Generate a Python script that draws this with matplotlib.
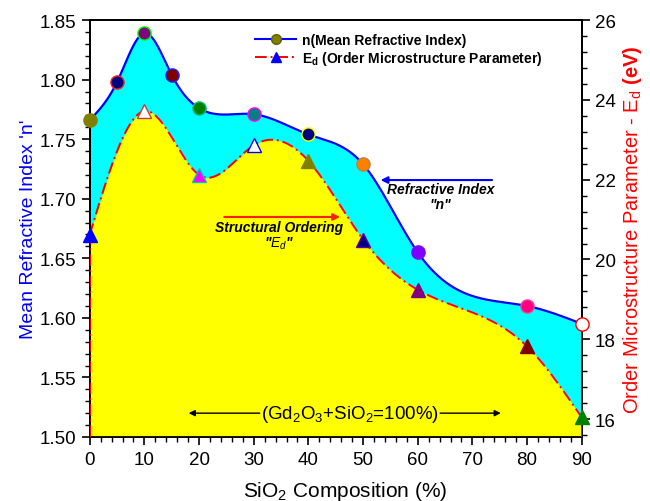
import numpy as np
import matplotlib
matplotlib.use("Agg")
from matplotlib import pyplot as plt
from matplotlib.ticker import MultipleLocator
from matplotlib.lines import Line2D

plt.rcParams['font.family'] = ['Liberation Sans', 'DejaVu Sans']
plt.rcParams['mathtext.fontset'] = 'custom'
plt.rcParams['mathtext.rm'] = 'Liberation Sans'
plt.rcParams['mathtext.it'] = 'Liberation Sans:italic'
plt.rcParams['mathtext.bf'] = 'Liberation Sans:bold'

# dane
sio2_n = [0, 5, 10, 15, 20, 30, 40, 50, 60, 80, 90]
n_vals = [1.766, 1.798, 1.839, 1.804, 1.776, 1.771, 1.754, 1.729, 1.655, 1.610, 1.595]
n_face = ['#808000', '#000080', '#800080', '#800000', '#008000', '#008080',
          '#000080', '#ff8000', '#8000ff', '#ff0080', '#ffffff']
n_edge = ['#808000', '#ff2020', '#00ff00', '#2020ff', '#00c080', '#ff00ff',
          '#ffff00', '#c08040', '#8000ff', '#ff4090', '#ff0000']

sio2_ed = [0, 10, 20, 30, 40, 50, 60, 80, 90]
ed_vals = [20.62, 23.72, 22.12, 22.86, 22.47, 20.50, 19.24, 17.82, 16.04]
ed_face = ['#0000ff', '#ffffff', '#ff00ff', '#ffffff', '#808000', '#000080',
           '#800080', '#800000', '#008000']
ed_edge = ['#0000ff', '#c04040', '#00c0c0', '#0000ff', '#808000', '#6000a0',
           '#800080', '#800000', '#008000']


# naturalny splajn kubiczny - tylko do gładkiej linii między punktami
def splajn(x, y, xs):
    x = np.asarray(x, float)
    y = np.asarray(y, float)
    h = np.diff(x)
    m = len(x)
    A = np.zeros((m, m))
    b = np.zeros(m)
    A[0, 0] = 1
    A[-1, -1] = 1
    for i in range(1, m - 1):
        A[i, i - 1] = h[i - 1]
        A[i, i] = 2 * (h[i - 1] + h[i])
        A[i, i + 1] = h[i]
        b[i] = 6 * ((y[i + 1] - y[i]) / h[i] - (y[i] - y[i - 1]) / h[i - 1])
    M = np.linalg.solve(A, b)
    k = np.clip(np.searchsorted(x, xs) - 1, 0, m - 2)
    t1 = x[k + 1] - xs
    t0 = xs - x[k]
    hk = h[k]
    return (M[k] * t1**3 / (6 * hk) + M[k + 1] * t0**3 / (6 * hk)
            + (y[k] / hk - M[k] * hk / 6) * t1
            + (y[k + 1] / hk - M[k + 1] * hk / 6) * t0)


# przeliczenie n na skalę prawej osi
def n_na_ed(v):
    return 15.55 + (np.asarray(v) - 1.5) / 0.35 * 10.45


xs = np.linspace(0, 90, 600)
n_s = splajn(sio2_n, n_vals, xs)
ed_s = splajn(sio2_ed, ed_vals, xs)

fig = plt.figure(figsize=(6.5, 5.02), dpi=100)
ax = fig.add_axes([0.138, 0.1275, 0.757, 0.8305])
ax2 = ax.twinx()

ax.set_xlim(0, 90)
ax.set_ylim(1.50, 1.85)
ax2.set_ylim(15.55, 26)

# wypełnienia
ax.fill_between(xs, n_s, 1.50, color='#00ffff', lw=0, zorder=1)
ax2.fill_between(xs, ed_s, 15.55, color='#ffff00', lw=0, zorder=1)

# linie
dashdot = (0, (6, 2, 1, 2))
ax.plot(xs, n_s, color='#0000ff', lw=1.6, zorder=3)
ax2.plot(xs, ed_s, color='#ff0000', lw=1.4, ls=dashdot, zorder=3)
ax2.plot([90, 90], [ed_vals[-1], n_na_ed(n_vals[-1])], color='#0000ff', lw=1.4, zorder=3)
ax2.plot([0, 0], [15.55, ed_vals[0]], color='#ff0000', lw=1.4, ls=dashdot, zorder=3)
ax2.plot([90, 90], [15.55, ed_vals[-1]], color='#ff0000', lw=1.4, ls=dashdot, zorder=3)

# punkty
for xi, yi, fc, ec in zip(sio2_n, n_vals, n_face, n_edge):
    ax2.plot(xi, n_na_ed(yi), 'o', ms=9.5, mfc=fc, mec=ec, mew=1.0, zorder=5, clip_on=False)
for xi, yi, fc, ec in zip(sio2_ed, ed_vals, ed_face, ed_edge):
    ax2.plot(xi, yi, '^', ms=10.5, mfc=fc, mec=ec, mew=1.0, zorder=6, clip_on=False)

# osie
ax.xaxis.set_major_locator(MultipleLocator(10))
ax.xaxis.set_minor_locator(MultipleLocator(2))
ax.yaxis.set_major_locator(MultipleLocator(0.05))
ax.yaxis.set_minor_locator(MultipleLocator(0.01))
ax2.yaxis.set_major_locator(MultipleLocator(2))
ax2.yaxis.set_minor_locator(MultipleLocator(0.4))
ax.yaxis.set_major_formatter(plt.FormatStrFormatter('%.2f'))
for a in (ax, ax2):
    a.tick_params(which='major', direction='out', length=6, width=1.2, labelsize=13.5)
    a.tick_params(which='minor', direction='out', length=3.5, width=1.0)
    for s in a.spines.values():
        s.set_linewidth(1.3)
ax.tick_params(axis='x', pad=4)

ax.set_xlabel('SiO$_2$ Composition (%)', fontsize=15, labelpad=6)
ax.xaxis.set_label_coords(0.52, -0.1)
ax.set_ylabel("Mean Refractive Index 'n'", fontsize=14, color='#0000ff', labelpad=2)
ax2.set_ylabel(r'Order Microstructure Parameter - E$_\mathregular{d}$ $\mathbf{(eV)}$',
               fontsize=14.5, color='#ff0000', labelpad=4)

# legenda
h1 = Line2D([], [], color='#0000ff', lw=1.5, marker='o', ms=7, mfc='#808000', mec='#606000')
h2 = Line2D([], [], color='#ff0000', lw=1.4, ls=dashdot, marker='^', ms=7,
            mfc='#0000ff', mec='#0000ff')
ax2.legend([h1, h2], ['n(Mean Refractive Index)',
                      r'E$_\mathregular{d}$ (Order Microstructure Parameter)'],
           loc='upper left', bbox_to_anchor=(0.31, 1.0), frameon=False,
           prop={'weight': 'bold', 'size': 10}, handlelength=3.0, handletextpad=0.4,
           labelspacing=0.15)

# adnotacje
tr = ax.transData
ax2.annotate('', xy=(52.7, 1.7157), xytext=(74.1, 1.7157), xycoords=tr, textcoords=tr,
             arrowprops=dict(arrowstyle='-|>', color='#0000ff', lw=1.5,
                             mutation_scale=10), zorder=7)
ax2.text(64.2, 1.702, 'Refractive Index\n"n"', transform=tr, ha='center', va='center',
         fontsize=10, fontweight='bold', style='italic', linespacing=1.1, zorder=7)
ax2.annotate('', xy=(46.3, 1.6847), xytext=(24.1, 1.6847), xycoords=tr, textcoords=tr,
             arrowprops=dict(arrowstyle='-|>', color='#ff2000', lw=1.5,
                             mutation_scale=10), zorder=7)
ax2.text(34.6, 1.669, 'Structural Ordering\n"$\\mathbf{\\mathit{E_d}}$"', transform=tr,
         ha='center', va='center', fontsize=10, fontweight='bold', style='italic',
         linespacing=1.1, zorder=7)
ax2.text(47.6, 1.52, '(Gd$_2$O$_3$+SiO$_2$=100%)', transform=tr, ha='center', va='center',
         fontsize=13.5, zorder=7)
ax2.annotate('', xy=(17.6, 1.52), xytext=(31.6, 1.52), xycoords=tr, textcoords=tr,
             arrowprops=dict(arrowstyle='-|>', color='black', lw=1.0, mutation_scale=9), zorder=7)
ax2.annotate('', xy=(75.7, 1.52), xytext=(63.6, 1.52), xycoords=tr, textcoords=tr,
             arrowprops=dict(arrowstyle='-|>', color='black', lw=1.0, mutation_scale=9), zorder=7)

fig.savefig('out.png', dpi=100)
